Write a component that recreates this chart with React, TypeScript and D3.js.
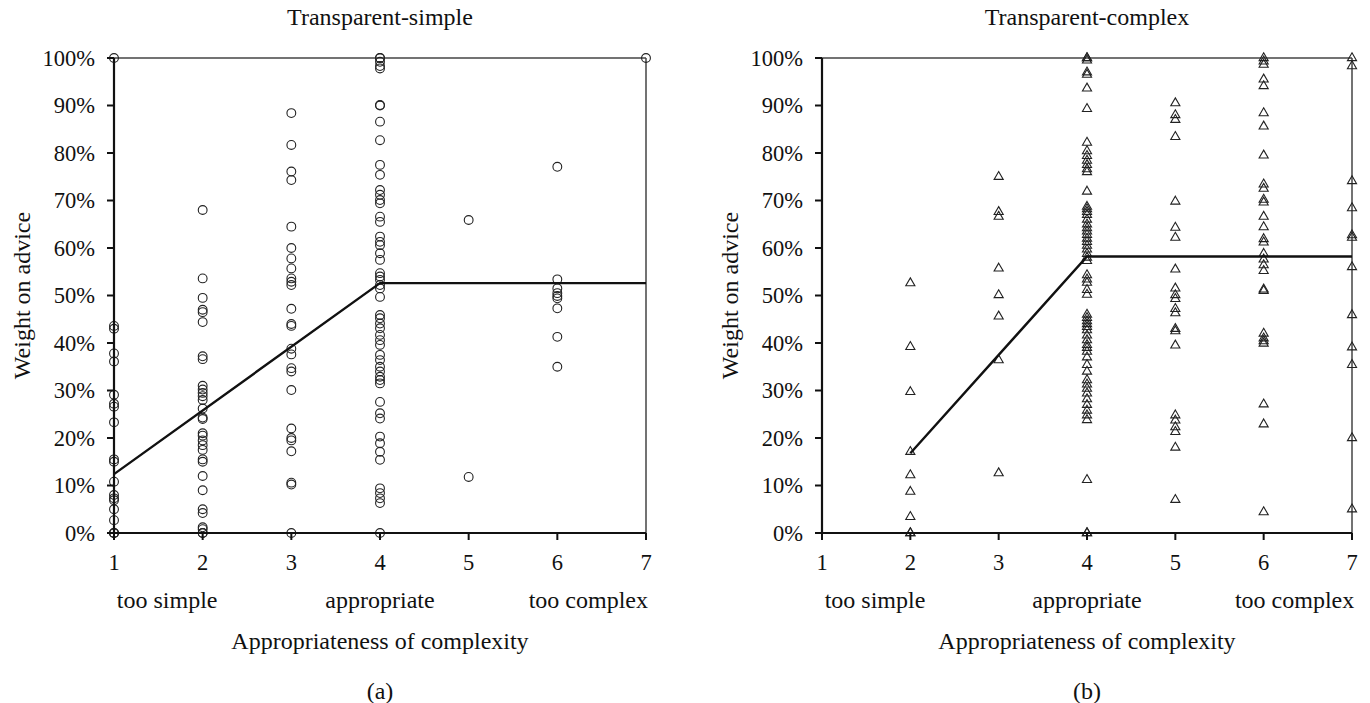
import * as d3 from 'd3';

// weight on advice (%) by rated complexity (1..7)
const simple1 = [100, 43.6, 43.0, 37.8, 36.1, 29.1, 27.2, 26.6, 23.3, 15.5, 15.0, 10.8, 8.0, 7.3, 6.9, 5.0, 2.7, 0, 0, 0];
const simple2 = [68.0, 53.6, 49.5, 47.0, 46.5, 44.4, 37.2, 36.6, 31.0, 30.2, 29.5, 28.8, 28.0, 26.2, 24.3, 24.0, 21.0, 20.5, 19.5, 18.5, 17.5, 15.5, 15.0, 12.0, 9.0, 5.0, 4.2, 1.2, 0.8, 0, 0];
const simple3 = [88.4, 81.7, 76.1, 74.3, 64.5, 60.0, 57.8, 55.7, 53.6, 52.9, 52.2, 47.2, 44.0, 43.6, 38.8, 37.6, 34.7, 34.0, 30.1, 22.0, 20.0, 19.5, 17.2, 10.6, 10.2, 0];
const simple4 = [100, 100, 99.2, 98.3, 97.8, 90.1, 90.0, 86.6, 82.7, 77.5, 75.4, 72.2, 71.2, 70.1, 69.4, 66.6, 65.5, 62.4, 61.3, 60.6, 58.9, 57.5, 54.7, 54.0, 53.3, 52.2, 51.5, 49.7, 45.9, 45.2, 44.1, 43.1, 41.7, 40.6, 39.6, 37.5, 36.4, 35.0, 34.0, 32.9, 32.2, 31.5, 27.6, 25.2, 24.1, 20.3, 18.9, 17.1, 15.4, 9.4, 8.4, 7.3, 6.3, 0];
const simple5 = [65.9, 11.8];
const simple6 = [77.1, 53.4, 51.5, 50.5, 49.9, 49.4, 47.3, 41.3, 35.0];
const simple7 = [100];

const complex2 = [52.6, 39.2, 29.7, 17.1, 12.2, 8.7, 3.4, 0, 0];
const complex3 = [75.0, 67.6, 66.6, 55.7, 50.1, 45.6, 36.4, 12.6];
const complex4 = [100, 100, 99.5, 97, 96.5, 93.6, 89.3, 82.2, 80.4, 79.4, 78.4, 77.5, 76.6, 76.0, 71.9, 68.7, 68.2, 67.6, 67.0, 66.0, 65.0, 64.2, 63.5, 62.8, 62.0, 61.3, 60.5, 59.7, 58.8, 58.0, 57.3, 54.3, 53.4, 52.7, 51.2, 50.2, 46.0, 45.3, 44.6, 44.0, 43.4, 42.7, 41.6, 40.6, 39.6, 39.0, 38.2, 37.0, 35.4, 34.0, 32.2, 31.3, 30.4, 29.4, 28.2, 27.0, 25.8, 24.8, 23.8, 11.2, 0, 0];
const complex5 = [90.5, 88.0, 87.0, 83.4, 69.8, 64.3, 62.2, 55.5, 51.5, 50.1, 49.3, 47.2, 46.3, 43.0, 42.5, 39.5, 24.8, 23.7, 22.3, 21.3, 18.0, 7.0];
const complex6 = [100, 99.3, 98.6, 95.5, 94.1, 88.4, 85.6, 79.5, 73.4, 72.5, 70.2, 69.6, 66.6, 64.4, 61.9, 61.2, 58.8, 57.6, 56.4, 55.2, 51.3, 51.0, 42.0, 41.0, 40.4, 39.9, 27.1, 22.9, 4.4];
const complex7 = [100, 98.3, 74.1, 68.4, 62.7, 62.2, 56.0, 45.9, 39.1, 35.4, 20.0, 5.0];

// piecewise fitted lines [x, wao%]
const simpleFit: [number, number][] = [[1, 12.4], [4, 52.6], [7, 52.6]];
const complexFit: [number, number][] = [[2, 16.8], [4, 58.2], [7, 58.2]];

const xTicks = [1, 2, 3, 4, 5, 6, 7];
const yTicks = [0, 10, 20, 30, 40, 50, 60, 70, 80, 90, 100];
const categoryLabels: [number, string][] = [[1.6, 'too simple'], [4, 'appropriate'], [6.35, 'too complex']];

const toPoints = (cols: [number, number[]][]) =>
  cols.flatMap(([x, vals]) => vals.map((v) => ({ x, y: v })));

const simplePoints = toPoints([[1, simple1], [2, simple2], [3, simple3], [4, simple4], [5, simple5], [6, simple6], [7, simple7]]);
const complexPoints = toPoints([[2, complex2], [3, complex3], [4, complex4], [5, complex5], [6, complex6], [7, complex7]]);

const FONT = '"Liberation Serif", "Times New Roman", serif';
const LABEL = 24;
const TICK = 22.5;

type PanelProps = {
  left: number;
  right: number;
  title: string;
  tag: string;
  points: { x: number; y: number }[];
  fit: [number, number][];
  marker: 'circle' | 'triangle';
};

const Panel = ({ left, right, title, tag, points, fit, marker }: PanelProps) => {
  const top = 58;
  const bottom = 533;
  const x = d3.scaleLinear().domain([1, 7]).range([left, right]);
  const y = d3.scaleLinear().domain([0, 100]).range([bottom, top]);
  const mid = (left + right) / 2;
  const line = d3.line<[number, number]>().x((d) => x(d[0])).y((d) => y(d[1]));
  const tri = d3.symbol().type(d3.symbolTriangle).size(36)()!;

  return (
    <g fontFamily={FONT} fill="#111">
      <text x={mid} y={17} dy="0.35em" textAnchor="middle" fontSize={LABEL}>{title}</text>

      {/* frame: top and right thin, left and bottom heavy */}
      <line x1={left} x2={right} y1={top} y2={top} stroke="#444" strokeWidth={1.5} />
      <line x1={right} x2={right} y1={top} y2={bottom} stroke="#444" strokeWidth={1.5} />

      {points.map((p, i) =>
        marker === 'circle' ? (
          <circle key={i} cx={x(p.x)} cy={y(p.y)} r={4.4} fill="none" stroke="#222" strokeWidth={1.1} />
        ) : (
          <path key={i} d={tri} transform={`translate(${x(p.x)},${y(p.y)})`} fill="none" stroke="#222" strokeWidth={1.1} />
        )
      )}

      <path d={line(fit)!} fill="none" stroke="#111" strokeWidth={2.4} />

      <line x1={left} x2={left} y1={top} y2={bottom} stroke="#111" strokeWidth={2.2} />
      <line x1={left} x2={right} y1={bottom} y2={bottom} stroke="#111" strokeWidth={2.2} />

      {yTicks.map((t) => (
        <g key={t}>
          <line x1={left - 7} x2={left} y1={y(t)} y2={y(t)} stroke="#111" strokeWidth={2} />
          <text x={left - 19} y={y(t)} dy="0.35em" textAnchor="end" fontSize={TICK}>{t}%</text>
        </g>
      ))}
      {xTicks.map((t) => (
        <g key={t}>
          <line x1={x(t)} x2={x(t)} y1={bottom} y2={bottom + 7} stroke="#111" strokeWidth={2} />
          <text x={x(t)} y={562} dy="0.35em" textAnchor="middle" fontSize={TICK}>{t}</text>
        </g>
      ))}
      {categoryLabels.map(([v, s]) => (
        <text key={s} x={x(v)} y={600} dy="0.35em" textAnchor="middle" fontSize={LABEL}>{s}</text>
      ))}
      <text x={mid} y={641} dy="0.35em" textAnchor="middle" fontSize={LABEL}>Appropriateness of complexity</text>
      <text x={mid} y={691} dy="0.35em" textAnchor="middle" fontSize={LABEL}>{tag}</text>
      <text
        transform={`translate(${left - 92},${(top + bottom) / 2}) rotate(-90)`}
        textAnchor="middle"
        dy="0.35em"
        fontSize={LABEL}
      >
        Weight on advice
      </text>
    </g>
  );
};

export default function App() {
  return (
    <svg
      width={1370}
      height={703}
      style={{ position: 'absolute', left: 0, top: 0, background: '#fff' }}
    >
      <Panel left={114} right={646} title="Transparent-simple" tag="(a)" points={simplePoints} fit={simpleFit} marker="circle" />
      <Panel left={822} right={1352} title="Transparent-complex" tag="(b)" points={complexPoints} fit={complexFit} marker="triangle" />
    </svg>
  );
}
